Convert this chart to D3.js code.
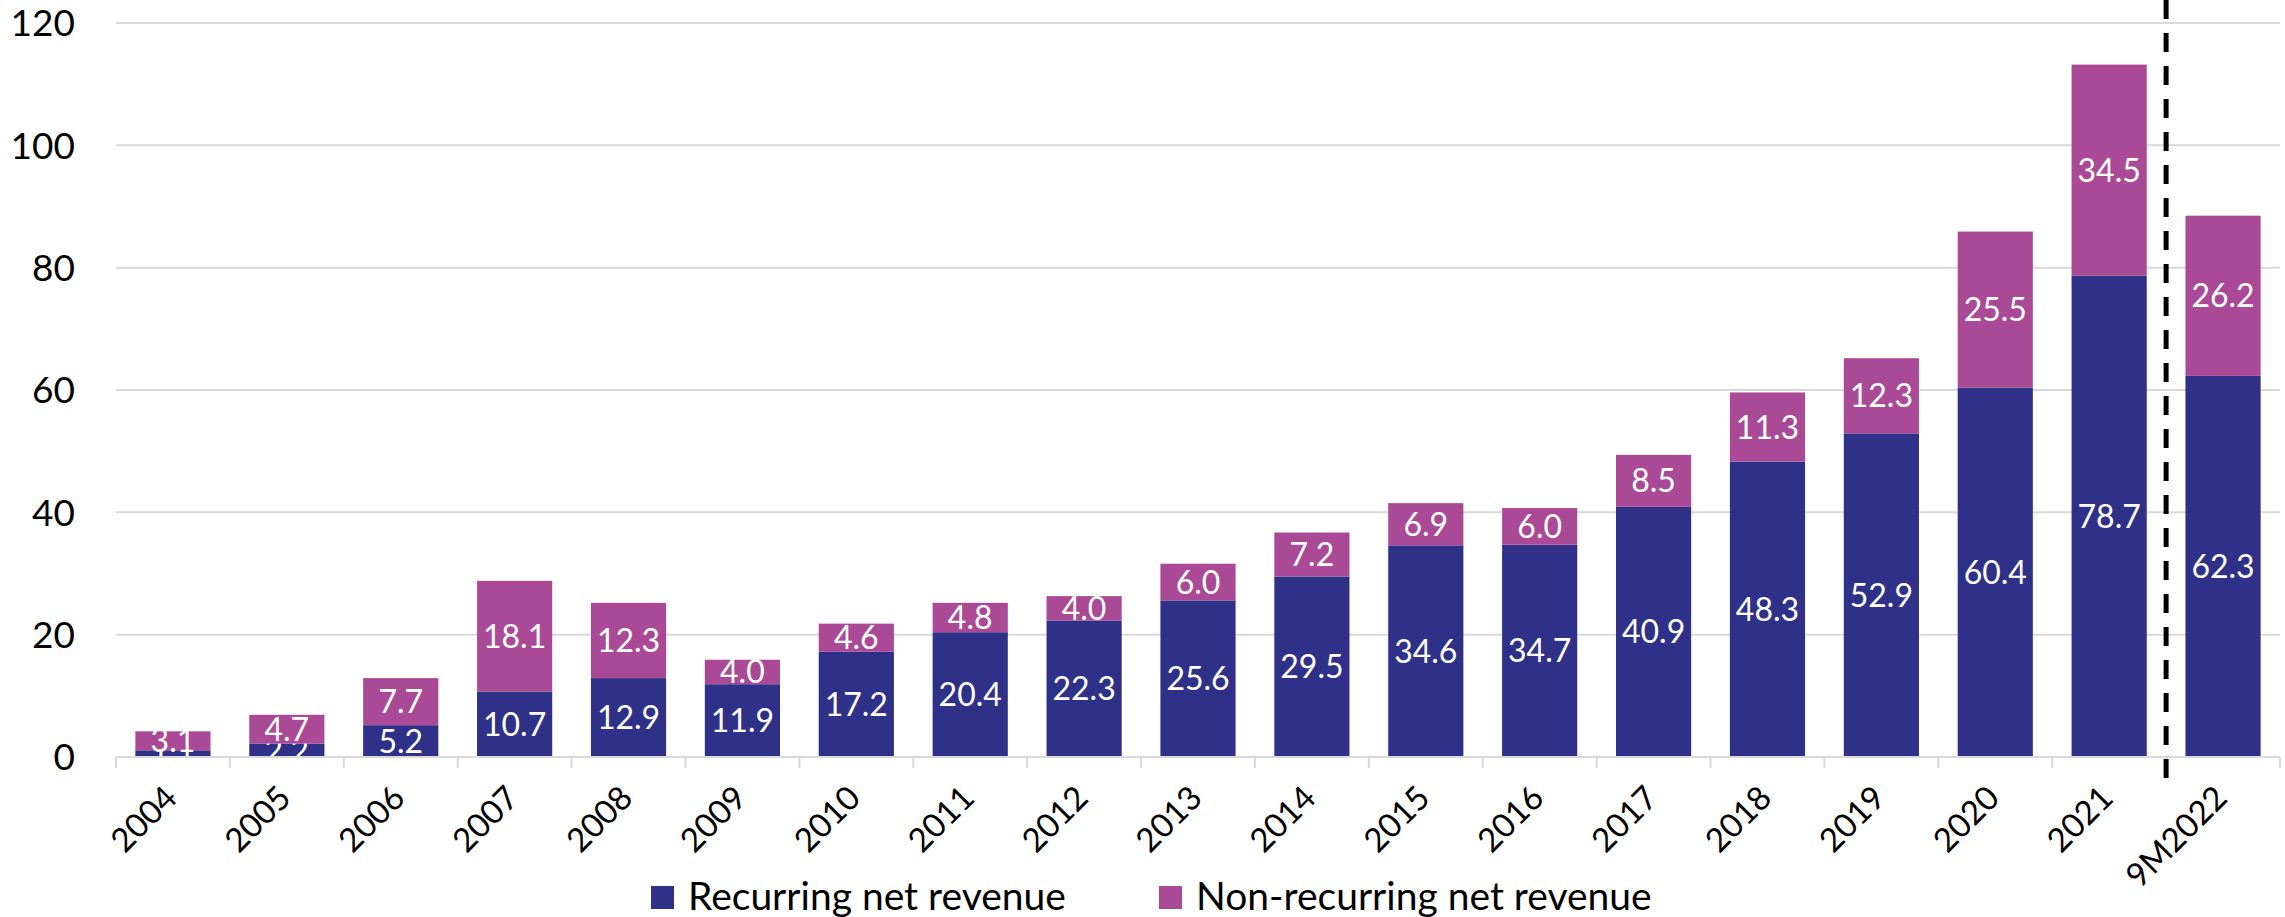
<!DOCTYPE html>
<html>
<head>
<meta charset="utf-8">
<script src="https://cdn.jsdelivr.net/npm/d3@7"></script>
<style>
  body { margin: 0; background: #fff; }
  text { font-family: Lato, "Open Sans", sans-serif; }
</style>
</head>
<body>
<div id="chart"></div>
<script>
"use strict";
//categories and the two stacked series
var years = ["2004", "2005", "2006", "2007", "2008", "2009", "2010", "2011", "2012", "2013",
  "2014", "2015", "2016", "2017", "2018", "2019", "2020", "2021", "9M2022"];
var recurring = [1.1, 2.2, 5.2, 10.7, 12.9, 11.9, 17.2, 20.4, 22.3, 25.6,
  29.5, 34.6, 34.7, 40.9, 48.3, 52.9, 60.4, 78.7, 62.3];
var nonRecurring = [3.1, 4.7, 7.7, 18.1, 12.3, 4.0, 4.6, 4.8, 4.0, 6.0,
  7.2, 6.9, 6.0, 8.5, 11.3, 12.3, 25.5, 34.5, 26.2];
var seriesNames = ["Recurring net revenue", "Non-recurring net revenue"];
var yTicks = [0, 20, 40, 60, 80, 100, 120];

var w = 2285, h = 917;
var colors = ["#2f3088", "#aa4a97"];
var gridColor = "#d9d9d9";

var svg = d3.select("#chart").append("svg")
  .attr("width", w)
  .attr("height", h);

var x = d3.scaleBand()
  .domain(years)
  .range([116, 2280])
  .paddingInner(0.34)
  .paddingOuter(0.17);

var y = d3.scaleLinear()
  .domain([0, 120])
  .range([757, 23]);

var step = x.step();

//gridlines
svg.append("g").selectAll("line")
  .data(yTicks.slice(1))
  .join("line")
  .attr("x1", 116).attr("x2", 2280)
  .attr("y1", function(d) { return y(d); })
  .attr("y2", function(d) { return y(d); })
  .attr("stroke", gridColor)
  .attr("stroke-width", 2);

//y axis labels
svg.append("g").selectAll("text")
  .data(yTicks)
  .join("text")
  .attr("x", 75)
  .attr("y", function(d) { return y(d); })
  .attr("dy", "0.36em")
  .attr("text-anchor", "end")
  .attr("font-size", 37)
  .attr("fill", "#000")
  .text(function(d) { return d; });

//stacked bars
var rows = years.map(function(yr, i) {
  return { year: yr, rec: recurring[i], non: nonRecurring[i] };
});
var stack = d3.stack().keys(["rec", "non"])(rows);

var layers = svg.append("g").selectAll("g")
  .data(stack)
  .join("g")
  .attr("fill", function(d, i) { return colors[i]; });

layers.selectAll("rect")
  .data(function(d) { return d; })
  .join("rect")
  .attr("x", function(d) { return x(d.data.year); })
  .attr("width", x.bandwidth())
  .attr("y", function(d) { return y(d[1]); })
  .attr("height", function(d) { return y(d[0]) - y(d[1]); });

//baseline and tick marks between categories
svg.append("line")
  .attr("x1", 116).attr("x2", 2280)
  .attr("y1", y(0)).attr("y2", y(0))
  .attr("stroke", gridColor)
  .attr("stroke-width", 2);

var tickXs = years.map(function(d) { return x(d) - step * 0.17; }).concat([2280]);
svg.append("g").selectAll("line")
  .data(tickXs)
  .join("line")
  .attr("x1", function(d) { return d; })
  .attr("x2", function(d) { return d; })
  .attr("y1", y(0))
  .attr("y2", y(0) + 11)
  .attr("stroke", gridColor)
  .attr("stroke-width", 2);

//data labels centred in each segment
layers.selectAll("text")
  .data(function(d) { return d; })
  .join("text")
  .attr("x", function(d) { return x(d.data.year) + x.bandwidth() / 2; })
  .attr("y", function(d) { return (y(d[0]) + y(d[1])) / 2; })
  .attr("dy", "0.36em")
  .attr("text-anchor", "middle")
  .attr("font-size", 32)
  .attr("fill", "#fff")
  .text(function(d) { return (d[1] - d[0]).toFixed(1); });

//x labels, rotated
svg.append("g").selectAll("text")
  .data(years)
  .join("text")
  .attr("transform", function(d) {
    return "translate(" + (x(d) + x.bandwidth() / 2 + 6) + ",800) rotate(-45)";
  })
  .attr("text-anchor", "end")
  .attr("font-size", 33)
  .attr("fill", "#000")
  .text(function(d) { return d; });

//dashed separator before the partial year
var sepX = x("9M2022") - step * 0.17;
svg.append("line")
  .attr("x1", sepX).attr("x2", sepX)
  .attr("y1", 0).attr("y2", 782)
  .attr("stroke", "#000")
  .attr("stroke-width", 5)
  .attr("stroke-dasharray", "19,14");

//legend
var legend = svg.append("g").selectAll("g")
  .data(seriesNames)
  .join("g")
  .attr("transform", function(d, i) { return "translate(" + [651, 1159][i] + ",886)"; });

legend.append("rect")
  .attr("width", 23)
  .attr("height", 23)
  .attr("fill", function(d, i) { return colors[i]; });

legend.append("text")
  .attr("x", 37)
  .attr("y", 24)
  .attr("font-size", 39)
  .attr("fill", "#000")
  .text(function(d) { return d; });
</script>
</body>
</html>
